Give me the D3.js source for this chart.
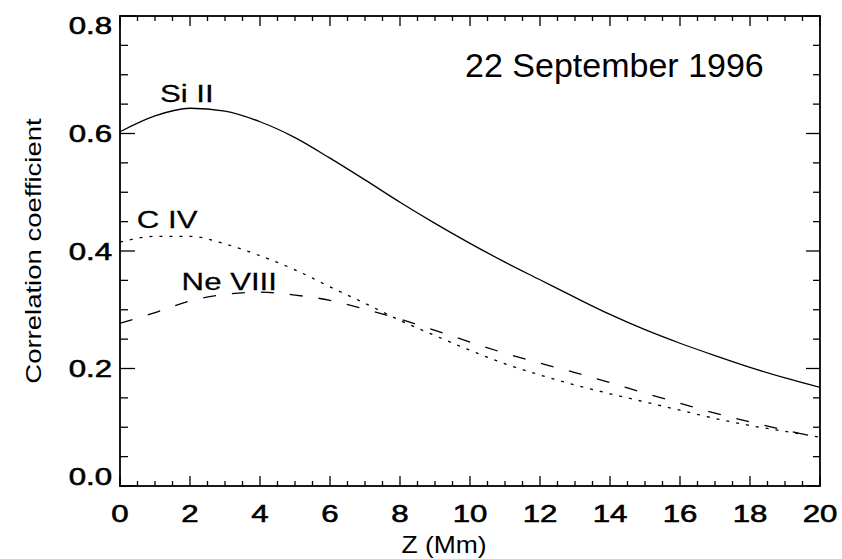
<!DOCTYPE html>
<html><head><meta charset="utf-8">
<script src="https://cdn.jsdelivr.net/npm/d3@7"></script>
<style>body{margin:0;background:#fff}svg{display:block}</style>
</head><body>
<svg id="chart" width="842" height="559"></svg>
<script>
// ---- data ----
const zValues = [0,1,2,3,4,5,6,7,8,9,10,11,12,13,14,15,16,17,18,19,20];
const siII   = [0.603,0.630,0.643,0.638,0.620,0.593,0.558,0.521,0.483,0.447,0.413,0.381,0.351,0.321,0.292,0.266,0.243,0.222,0.202,0.184,0.168];
const cIV    = [0.415,0.425,0.425,0.412,0.392,0.368,0.339,0.311,0.282,0.256,0.231,0.208,0.189,0.172,0.157,0.143,0.129,0.115,0.103,0.093,0.083];
const neVIII = [0.277,0.295,0.315,0.326,0.330,0.325,0.316,0.301,0.284,0.265,0.245,0.226,0.209,0.193,0.176,0.158,0.141,0.124,0.109,0.095,0.082];
const xTicks = [0,2,4,6,8,10,12,14,16,18,20];
const xTickLabels = ["0","2","4","6","8","10","12","14","16","18","20"];
const yTicks = [0,0.2,0.4,0.6,0.8];
const yTickLabels = ["0.0","0.2","0.4","0.6","0.8"];
const seriesNames = ["Si II","C IV","Ne VIII"];
const titleText = "22 September 1996";
const xTitle = "Z (Mm)";
const yTitle = "Correlation coefficient";

// ---- layout ----
const L = 120, R = 820, T = 16, B = 486;
const FONT = "'Liberation Sans', Arial, Helvetica, sans-serif";
const SX = 1.3;
const svg = d3.select("#chart");
const x = d3.scaleLinear().domain([0,20]).range([L,R]);
const y = d3.scaleLinear().domain([0,0.8]).range([B,T]);

const xMinor = d3.range(0,20.001,0.5).filter(v => Math.abs(v/2 - Math.round(v/2)) > 1e-6);
const yMinor = d3.range(0,0.8001,0.05).filter(v => Math.abs(v/0.2 - Math.round(v/0.2)) > 1e-6);

const g = svg.append("g").attr("stroke","#000").attr("stroke-width",1.3);
xTicks.forEach(v => {
  g.append("line").attr("x1",x(v)).attr("x2",x(v)).attr("y1",B).attr("y2",B-10);
  g.append("line").attr("x1",x(v)).attr("x2",x(v)).attr("y1",T).attr("y2",T+10);
});
xMinor.forEach(v => {
  g.append("line").attr("x1",x(v)).attr("x2",x(v)).attr("y1",B).attr("y2",B-5);
  g.append("line").attr("x1",x(v)).attr("x2",x(v)).attr("y1",T).attr("y2",T+5);
});
yTicks.forEach(v => {
  g.append("line").attr("x1",L).attr("x2",L+15).attr("y1",y(v)).attr("y2",y(v));
  g.append("line").attr("x1",R).attr("x2",R-14).attr("y1",y(v)).attr("y2",y(v));
});
yMinor.forEach(v => {
  g.append("line").attr("x1",L).attr("x2",L+8).attr("y1",y(v)).attr("y2",y(v));
  g.append("line").attr("x1",R).attr("x2",R-7).attr("y1",y(v)).attr("y2",y(v));
});
svg.append("rect").attr("x",L).attr("y",T).attr("width",R-L).attr("height",B-T)
  .attr("fill","none").attr("stroke","#000").attr("stroke-width",1.8);

// tick labels
svg.append("g").selectAll("text").data(xTicks).join("text")
  .attr("transform", d => `translate(${x(d)},${B+35.5}) scale(${SX},1)`)
  .attr("text-anchor","middle").attr("font-family",FONT).attr("font-size",24)
  .attr("stroke","#000").attr("stroke-width",0.6)
  .text((d,i) => xTickLabels[i]);
svg.append("g").selectAll("text").data(yTicks).join("text")
  .attr("transform", (d,i) => {
    let off = 8.6;
    if (i === 0) off = -1;
    if (i === yTicks.length-1) off = 18;
    return `translate(${L-8},${y(d)+off}) scale(${SX},1)`;
  })
  .attr("text-anchor","end").attr("font-family",FONT).attr("font-size",24)
  .attr("stroke","#000").attr("stroke-width",0.6)
  .text((d,i) => yTickLabels[i]);

// axis titles
svg.append("text").attr("transform",`translate(444,553) scale(1.15,1)`)
  .attr("text-anchor","middle").attr("font-family",FONT).attr("font-size",23).text(xTitle);
svg.append("text").attr("transform",`translate(41,251) rotate(-90) scale(1.25,1)`)
  .attr("text-anchor","middle").attr("font-family",FONT).attr("font-size",22).text(yTitle);

// lines
const line = d3.line().x((d,i) => x(zValues[i])).y(d => y(d)).curve(d3.curveMonotoneX);
const styles = [null, "3,7", "13,16"];
[siII, cIV, neVIII].forEach((s,k) => {
  const p = svg.append("path").datum(s).attr("d",line).attr("fill","none")
    .attr("stroke","#000").attr("stroke-width",1.3);
  if (styles[k]) p.attr("stroke-dasharray",styles[k]);
});

// series labels (anchored in data coordinates)
const labelAnchors = [[1.14,0.654],[0.48,0.4386],[1.76,0.3336]];
seriesNames.forEach((n,k) => {
  svg.append("text")
    .attr("transform",`translate(${x(labelAnchors[k][0])},${y(labelAnchors[k][1])}) scale(${SX},1)`)
    .attr("font-family",FONT).attr("font-size",24)
    .attr("stroke","#000").attr("stroke-width",0.25).text(n);
});
svg.append("text").attr("transform",`translate(${x(9.86)},${y(0.696)})`)
  .attr("font-family",FONT).attr("font-size",34).text(titleText);
</script>
</body></html>
